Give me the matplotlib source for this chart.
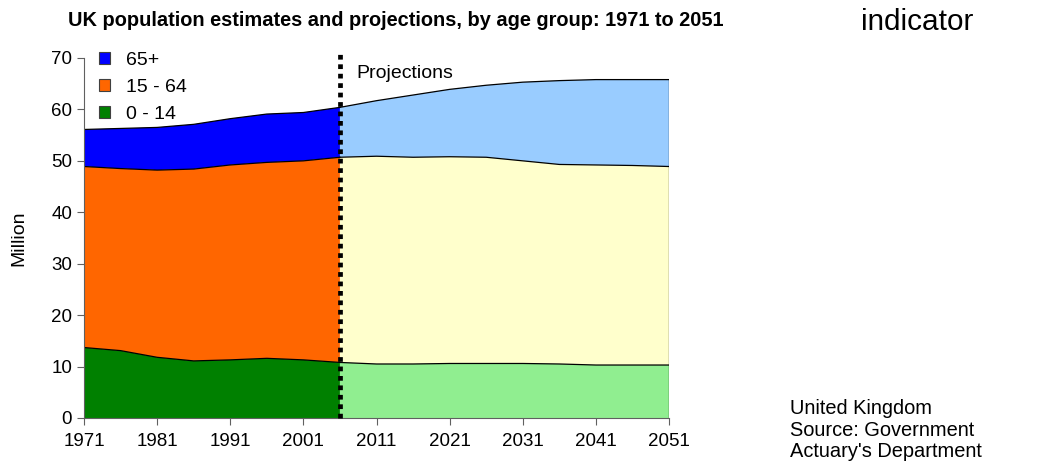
import matplotlib.pyplot as plt
from matplotlib.patches import Patch

plt.rcParams['font.family'] = ['Liberation Sans', 'DejaVu Sans']

# estimates, 1971 to 2006 (million)
hist_years = [1971, 1976, 1981, 1986, 1991, 1996, 2001, 2006]
hist_young = [13.7, 13.1, 11.8, 11.1, 11.3, 11.6, 11.3, 10.8]
hist_working_top = [48.9, 48.5, 48.2, 48.4, 49.2, 49.7, 50.0, 50.7]
hist_total = [56.1, 56.3, 56.5, 57.1, 58.2, 59.1, 59.4, 60.4]

# projections, 2006 to 2051 (million)
proj_years = [2006, 2011, 2016, 2021, 2026, 2031, 2036, 2041, 2046, 2051]
proj_young = [10.8, 10.5, 10.5, 10.6, 10.6, 10.6, 10.5, 10.3, 10.3, 10.3]
proj_working_top = [50.7, 50.9, 50.7, 50.8, 50.7, 50.0, 49.3, 49.2, 49.1, 48.9]
proj_total = [60.4, 61.7, 62.8, 63.9, 64.7, 65.3, 65.6, 65.8, 65.8, 65.8]

labels = ["65+", "15 - 64", "0 - 14"]
hist_colors = ["#0000ff", "#ff6600", "#008000"]
proj_colors = ["#99ccff", "#ffffcc", "#90ee90"]

fig = plt.figure(figsize=(10.46, 4.61), dpi=100, facecolor='w')
ax = fig.add_axes([0.0803, 0.0933, 0.5593, 0.7809])

for years, young, work, total, cols in [
        (hist_years, hist_young, hist_working_top, hist_total, hist_colors),
        (proj_years, proj_young, proj_working_top, proj_total, proj_colors)]:
    ax.fill_between(years, work, total, facecolor=cols[0], edgecolor='none')
    ax.fill_between(years, young, work, facecolor=cols[1], edgecolor='none')
    ax.fill_between(years, 0, young, facecolor=cols[2], edgecolor='none')
    for line in (young, work, total):
        ax.plot(years, line, color='black', linewidth=0.9)

ax.plot([proj_years[-1], proj_years[-1]], [0, proj_total[-1]], color='black', linewidth=0.9)

# divider between estimates and projections
ax.plot([2006, 2006], [0, 71.5], color='black', linewidth=3.4,
        linestyle=(0, (1, 1)), dash_capstyle='butt', clip_on=False, zorder=5)
ax.text(2008.3, 66.9, "Projections", fontsize=14, va='center', ha='left')

ax.set_xlim(1971, 2051)
ax.set_ylim(0, 70)
ax.set_xticks(range(1971, 2052, 10))
ax.set_yticks(range(0, 71, 10))
ax.tick_params(labelsize=13.5, color='#606060', length=5)
ax.tick_params(axis='x', pad=6)
for side in ['top', 'right']:
    ax.spines[side].set_visible(False)
for side in ['left', 'bottom']:
    ax.spines[side].set_color('#606060')
ax.set_ylabel("Million", fontsize=14, labelpad=17)

handles = [Patch(facecolor=c, edgecolor='#404040', linewidth=0.8) for c in hist_colors]
ax.legend(handles, labels, loc='upper left', bbox_to_anchor=(-0.005, 1.065),
          frameon=False, fontsize=14, handlelength=0.6, handleheight=0.6,
          handletextpad=0.8, labelspacing=0.5)

fig.text(0.065, 0.955, "UK population estimates and projections, by age group: 1971 to 2051",
         fontsize=14.4, fontweight='bold', va='center', ha='left')
fig.text(0.8767, 0.952, "indicator", fontsize=21.4, va='center', ha='center')
fig.text(0.755, 0.1345, "United Kingdom\nSource: Government\nActuary's Department",
         fontsize=14.4, va='top', ha='left', linespacing=1.18)

plt.savefig("out.png")
